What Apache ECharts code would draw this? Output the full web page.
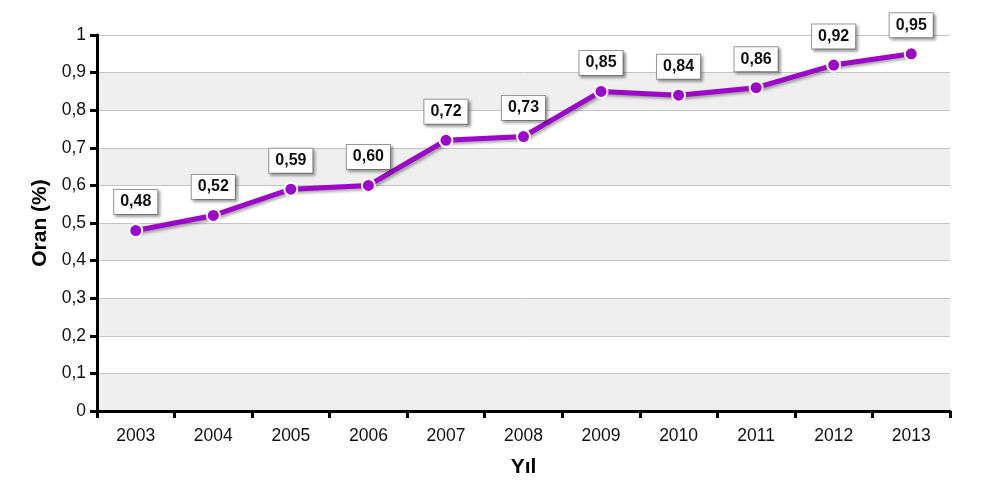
<!DOCTYPE html>
<html>
<head>
<meta charset="utf-8">
<script src="https://cdn.jsdelivr.net/npm/echarts@6/dist/echarts.min.js"></script>
<style>
  html, body { margin: 0; padding: 0; background: #fff; }
  #chart { width: 981px; height: 500px; }
</style>
</head>
<body>
<div id="chart"></div>
<script>
  // yıllar ve oranlar
  const years = ['2003', '2004', '2005', '2006', '2007', '2008', '2009', '2010', '2011', '2012', '2013'];
  const rates = [0.48, 0.52, 0.59, 0.60, 0.72, 0.73, 0.85, 0.84, 0.86, 0.92, 0.95];

  const tickFmt = v => String(+v.toFixed(2)).replace('.', ',');
  const labelFmt = v => v.toFixed(2).replace('.', ',');

  const chart = echarts.init(document.getElementById('chart'));
  const option = {
    animation: false,
    grid: { left: 97, right: 31, top: 35, bottom: 89 },
    xAxis: {
      type: 'category',
      data: years,
      name: 'Yıl',
      nameLocation: 'middle',
      nameGap: 46,
      nameTextStyle: { fontFamily: 'Liberation Sans', fontWeight: 'bold', fontSize: 21, color: '#000' },
      axisLine: { lineStyle: { color: '#000', width: 3 } },
      axisTick: { show: true, length: 7, lineStyle: { color: '#000', width: 3 } },
      axisLabel: { fontFamily: 'Liberation Sans', fontSize: 17.5, color: '#111', margin: 16 }
    },
    yAxis: {
      type: 'value',
      min: 0,
      max: 1,
      interval: 0.1,
      name: 'Oran (%)',
      nameLocation: 'middle',
      nameGap: 46,
      nameTextStyle: { fontFamily: 'Liberation Sans', fontWeight: 'bold', fontSize: 21, color: '#000' },
      axisLine: { show: true, lineStyle: { color: '#000', width: 3 } },
      axisTick: { show: true, length: 7, lineStyle: { color: '#000', width: 3 } },
      axisLabel: { fontFamily: 'Liberation Sans', fontSize: 17.5, color: '#111', margin: 11, formatter: tickFmt },
      splitLine: { lineStyle: { color: '#c4c4c4', width: 1 } },
      splitArea: { show: true, areaStyle: { color: ['#efefef', '#ffffff'] } }
    },
    series: [{
      type: 'line',
      data: rates,
      symbol: 'circle',
      symbolSize: 13,
      lineStyle: {
        color: '#9b06c9', width: 5,
        shadowColor: 'rgba(0,0,0,0.35)', shadowBlur: 3, shadowOffsetX: 2, shadowOffsetY: 2
      },
      itemStyle: { color: '#9b06c9', borderColor: '#fff', borderWidth: 2 },
      label: {
        show: true,
        position: 'top',
        distance: 9,
        formatter: p => labelFmt(p.value),
        fontFamily: 'Liberation Sans',
        fontWeight: 'bold',
        fontSize: 16,
        color: '#111',
        backgroundColor: '#fff',
        borderColor: '#999',
        borderWidth: 1,
        padding: [4, 6, 4, 6],
        shadowColor: 'rgba(0,0,0,0.35)',
        shadowBlur: 3,
        shadowOffsetX: 2,
        shadowOffsetY: 2
      }
    }]
  };
  chart.setOption(option);
</script>
</body>
</html>
